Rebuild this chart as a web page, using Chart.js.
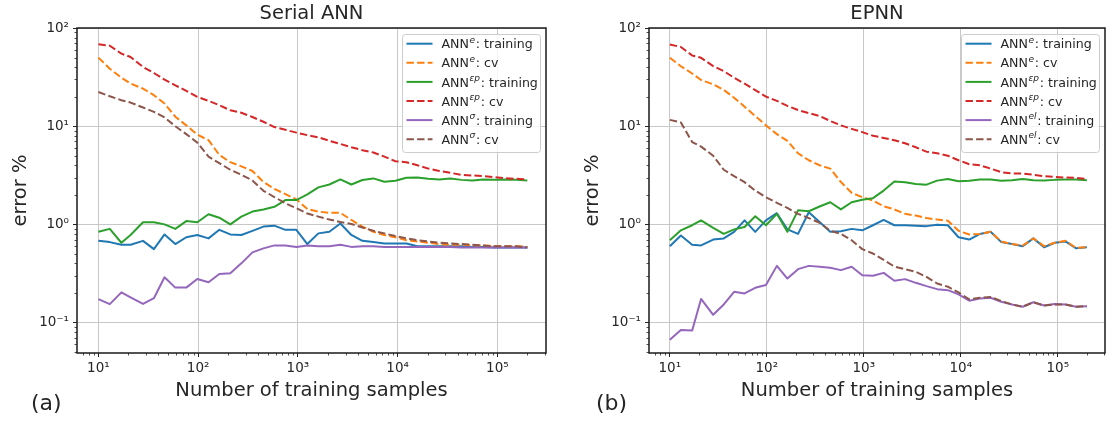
<!DOCTYPE html>
<html><head><meta charset="utf-8">
<script src="https://cdn.jsdelivr.net/npm/chart.js@4/dist/chart.umd.min.js"></script>
<style>
html,body{margin:0;padding:0;background:#fff;width:1119px;height:421px;overflow:hidden}
canvas{position:absolute;top:0}
#c1{left:0}
#c2{left:572px}
</style></head><body>
<canvas id="c1" width="560" height="421"></canvas>
<canvas id="c2" width="547" height="421"></canvas>
<script>
// ---- data ----
const samples = [10,13,17,21,28,36,46,59,76,98,127,163,210,271,350,451,581,749,965,1244,1604,2067,2665,3435,4429,5708,7358,9483,12225,15756,20310,26179,33747,43500,56072,72281,93166,120097,154800,199526];

const xTickValues = [10,100,1000,10000,100000];
const yTickValues = [0.1,1,10,100];

// Serial ANN
const serialTrainE  = [0.68,0.66,0.62,0.62,0.68,0.56,0.79,0.63,0.74,0.78,0.72,0.88,0.79,0.78,0.86,0.95,0.97,0.88,0.88,0.63,0.81,0.84,1.02,0.78,0.68,0.66,0.64,0.64,0.64,0.60,0.60,0.60,0.60,0.60,0.59,0.59,0.58,0.58,0.58,0.58];
const serialCvE     = [49.9,38.5,31.2,27.2,24.1,20.7,17.0,12.5,10.2,8.2,7.2,5.1,4.3,3.9,3.5,2.7,2.3,2.03,1.8,1.43,1.35,1.31,1.31,1.11,0.95,0.84,0.78,0.74,0.69,0.67,0.65,0.63,0.62,0.62,0.61,0.61,0.60,0.60,0.60,0.59];
const serialTrainEP = [0.84,0.90,0.65,0.78,1.05,1.05,1.0,0.90,1.08,1.05,1.27,1.17,1.0,1.2,1.35,1.42,1.51,1.77,1.77,2.02,2.38,2.55,2.87,2.55,2.83,2.94,2.72,2.78,2.98,3.01,2.91,2.86,2.94,2.84,2.80,2.86,2.84,2.86,2.84,2.80];
const serialCvEP    = [68.2,66,54.8,50.7,40.1,34.8,29.8,26.1,22.9,19.9,18.1,16.4,14.5,13.7,12.4,11.1,9.8,9.2,8.6,8.1,7.7,7.1,6.6,6.1,5.7,5.4,4.9,4.4,4.3,4.0,3.7,3.5,3.35,3.2,3.15,3.1,3.03,2.96,2.91,2.87];
const serialTrainS  = [0.173,0.154,0.203,0.181,0.155,0.177,0.289,0.227,0.227,0.278,0.257,0.313,0.318,0.401,0.519,0.570,0.611,0.611,0.587,0.611,0.60,0.60,0.62,0.59,0.60,0.60,0.59,0.59,0.59,0.59,0.59,0.59,0.59,0.58,0.58,0.58,0.58,0.58,0.58,0.58];
const serialCvS     = [22.3,20.2,18.4,17.4,15.5,14.0,12.3,10.0,8.3,6.8,4.9,4.2,3.6,3.2,2.8,2.2,1.9,1.64,1.46,1.29,1.2,1.12,1.06,1.01,0.93,0.86,0.81,0.76,0.72,0.69,0.67,0.65,0.64,0.63,0.62,0.61,0.60,0.60,0.60,0.58];

// EPNN
const epnnTrainE  = [0.60,0.77,0.62,0.61,0.70,0.72,0.84,1.10,0.84,1.10,1.30,0.89,0.80,1.33,1.06,0.84,0.85,0.90,0.87,0.98,1.11,0.98,0.98,0.97,0.96,0.99,0.98,0.74,0.70,0.80,0.84,0.66,0.63,0.60,0.72,0.585,0.65,0.67,0.57,0.585];
const epnnCvE     = [49.7,40.8,34.4,29.5,26.7,23.4,19.5,15.8,12.7,10.2,8.3,7.1,5.3,4.5,4.0,3.7,2.7,2.1,1.89,1.75,1.53,1.42,1.28,1.23,1.16,1.12,1.09,0.86,0.79,0.80,0.84,0.67,0.63,0.61,0.72,0.60,0.65,0.68,0.575,0.585];
const epnnTrainEP = [0.69,0.87,0.98,1.10,0.92,0.80,0.89,0.94,1.21,0.98,1.28,0.84,1.39,1.36,1.52,1.68,1.42,1.68,1.78,1.85,2.21,2.73,2.69,2.58,2.54,2.79,2.90,2.75,2.79,2.86,2.86,2.79,2.82,2.90,2.82,2.80,2.84,2.86,2.86,2.82];
const epnnCvEP    = [67.8,64.1,52.5,49.7,40.9,36.4,31.1,27.1,23.3,20.0,18.1,16.1,14.6,13.6,12.7,11.3,10.2,9.4,8.7,8.0,7.6,7.2,6.7,6.1,5.5,5.3,5.0,4.5,4.1,4.0,3.7,3.4,3.3,3.3,3.2,3.1,3.04,3.0,2.98,2.9];
const epnnTrainL  = [0.067,0.084,0.083,0.174,0.120,0.153,0.206,0.198,0.226,0.241,0.378,0.281,0.35,0.378,0.37,0.361,0.342,0.37,0.304,0.30,0.321,0.267,0.277,0.254,0.235,0.219,0.214,0.194,0.167,0.176,0.179,0.163,0.153,0.145,0.161,0.149,0.155,0.153,0.145,0.147];
const epnnCvL     = [11.6,10.9,6.9,6.2,5.0,3.6,3.1,2.69,2.21,1.89,1.66,1.47,1.28,1.16,1.04,0.86,0.80,0.69,0.56,0.505,0.435,0.372,0.35,0.329,0.292,0.25,0.232,0.203,0.172,0.179,0.182,0.166,0.153,0.145,0.161,0.149,0.153,0.153,0.145,0.147];

// ---- styling ----
const FONT = "'DejaVu Sans', sans-serif";
const TXT = '#262626';
const C = {blue:'#1f77b4', orange:'#ff7f0e', green:'#2ca02c', red:'#d62728', purple:'#9467bd', brown:'#8c564b'};
const DASH = [7.4, 3.2];

const SUP = {'0':'\u2070','1':'\u00b9','2':'\u00b2','3':'\u00b3','4':'\u2074','5':'\u2075','-':'\u207b'};
function powLabel(v){
  const e = String(Math.round(Math.log10(v)));
  return '10' + e.split('').map(c=>SUP[c]).join('');
}

const serialSeries = [
  {data:serialTrainE,  color:C.blue,   dashed:false, sup:'e',  tail:': training'},
  {data:serialCvE,     color:C.orange, dashed:true,  sup:'e',  tail:': cv'},
  {data:serialTrainEP, color:C.green,  dashed:false, sup:'\u03b5p', tail:': training'},
  {data:serialCvEP,    color:C.red,    dashed:true,  sup:'\u03b5p', tail:': cv'},
  {data:serialTrainS,  color:C.purple, dashed:false, sup:'\u03c3',  tail:': training'},
  {data:serialCvS,     color:C.brown,  dashed:true,  sup:'\u03c3',  tail:': cv'}
];
const epnnSeries = [
  {data:epnnTrainE,  color:C.blue,   dashed:false, sup:'e',  tail:': training'},
  {data:epnnCvE,     color:C.orange, dashed:true,  sup:'e',  tail:': cv'},
  {data:epnnTrainEP, color:C.green,  dashed:false, sup:'\u03b5p', tail:': training'},
  {data:epnnCvEP,    color:C.red,    dashed:true,  sup:'\u03b5p', tail:': cv'},
  {data:epnnTrainL,  color:C.purple, dashed:false, sup:'el', tail:': training'},
  {data:epnnCvL,     color:C.brown,  dashed:true,  sup:'el', tail:': cv'}
];

function drawLegend(ctx, ca, series){
  const w = 138, h = 118;
  const x0 = ca.right - 6 - w, y0 = ca.top + 6;
  ctx.save();
  ctx.beginPath();
  if (ctx.roundRect) ctx.roundRect(x0 + 0.5, y0 + 0.5, w, h, 3); else ctx.rect(x0 + 0.5, y0 + 0.5, w, h);
  ctx.fillStyle = 'rgba(255,255,255,0.8)';
  ctx.fill();
  ctx.strokeStyle = '#cccccc';
  ctx.lineWidth = 1;
  ctx.stroke();
  series.forEach((s, i) => {
    const cy = y0 + 9.7 + 19.1 * i;
    ctx.beginPath();
    ctx.setLineDash(s.dashed ? DASH : []);
    ctx.strokeStyle = s.color;
    ctx.lineWidth = 2;
    ctx.lineCap = 'butt';
    ctx.moveTo(x0 + 4.5, cy);
    ctx.lineTo(x0 + 30.5, cy);
    ctx.stroke();
    ctx.setLineDash([]);
    let tx = x0 + 39.5;
    const base = cy + 4.6;
    ctx.fillStyle = TXT;
    ctx.textBaseline = 'alphabetic';
    ctx.textAlign = 'left';
    ctx.font = `12.6px ${FONT}`;
    ctx.fillText('ANN', tx, base);
    tx += ctx.measureText('ANN').width + 0.5;
    ctx.font = `italic 9px ${FONT}`;
    ctx.fillText(s.sup, tx, base - 5.5);
    tx += ctx.measureText(s.sup).width + 0.8;
    ctx.font = `12.6px ${FONT}`;
    ctx.fillText(s.tail, tx, base);
  });
  ctx.restore();
}

function makeChart(id, title, letter, letterX, series){
  const deco = {
    id: 'deco',
    afterDraw(chart){
      const ctx = chart.ctx, ca = chart.chartArea;
      const xs = chart.scales.x, ys = chart.scales.y;
      ctx.save();
      // minor ticks
      ctx.strokeStyle = TXT;
      ctx.lineWidth = 0.8;
      ctx.beginPath();
      for (let e = 0; e <= 5; e++) for (let m = 2; m <= 9; m++) {
        const v = m * Math.pow(10, e);
        if (v < xs.min || v > xs.max) continue;
        const px = Math.round(xs.getPixelForValue(v)) + 0.5;
        ctx.moveTo(px, ca.bottom); ctx.lineTo(px, ca.bottom + 2.5);
      }
      for (let e = -2; e <= 1; e++) for (let m = 2; m <= 9; m++) {
        const v = m * Math.pow(10, e);
        if (v < ys.min || v > ys.max) continue;
        const py = Math.round(ys.getPixelForValue(v)) + 0.5;
        ctx.moveTo(ca.left - 2.5, py); ctx.lineTo(ca.left, py);
      }
      ctx.stroke();
      // spines
      ctx.strokeStyle = '#1a1a1a';
      ctx.lineWidth = 1.5;
      ctx.strokeRect(ca.left, ca.top, ca.right - ca.left, ca.bottom - ca.top);
      ctx.restore();

      drawLegend(ctx, ca, series);

      ctx.save();
      ctx.fillStyle = TXT;
      ctx.textBaseline = 'alphabetic';
      ctx.textAlign = 'center';
      ctx.font = `19.5px ${FONT}`;
      const cx = (ca.left + ca.right) / 2;
      ctx.fillText(title, cx, 19.3);
      ctx.fillText('Number of training samples', cx, 396);
      ctx.save();
      ctx.translate(26, (ca.top + ca.bottom) / 2);
      ctx.rotate(-Math.PI / 2);
      ctx.fillText('error %', 0, 0);
      ctx.restore();
      ctx.textAlign = 'left';
      ctx.font = `22px ${FONT}`;
      ctx.fillText(letter, letterX, 410);
      ctx.restore();
    }
  };

  const datasets = series.map((s, i) => ({
    data: samples.map((x, k) => ({x: x, y: s.data[k]})),
    borderColor: s.color,
    backgroundColor: s.color,
    borderWidth: 2,
    borderDash: s.dashed ? DASH : [],
    borderJoinStyle: 'round',
    borderCapStyle: 'butt',
    pointRadius: 0,
    pointHoverRadius: 0,
    fill: false,
    tension: 0,
    order: series.length - i
  }));

  return new Chart(document.getElementById(id), {
    type: 'line',
    data: {datasets},
    plugins: [deco],
    options: {
      responsive: false,
      animation: false,
      devicePixelRatio: 1,
      layout: {padding: {left: 0, right: 14, top: 28, bottom: 0}},
      plugins: {legend: {display: false}, tooltip: {enabled: false}, title: {display: false}},
      events: [],
      scales: {
        x: {
          type: 'logarithmic',
          min: 6.1, max: 3.07e5,
          afterBuildTicks: s => { s.ticks = xTickValues.map(v => ({value: v})); },
          afterFit: s => { s.height = 68; },
          ticks: {callback: v => powLabel(v), font: {family: FONT, size: 13.5}, color: TXT, padding: 3, maxRotation: 0, autoSkip: false},
          grid: {color: '#c8c8c8', lineWidth: 1, drawTicks: true, tickLength: 4, tickColor: TXT, tickWidth: 1},
          border: {display: false}
        },
        y: {
          type: 'logarithmic',
          position: 'left',
          min: 0.049, max: 100,
          afterBuildTicks: s => { s.ticks = yTickValues.map(v => ({value: v})); },
          afterFit: s => { s.width = 77; },
          ticks: {callback: v => powLabel(v), font: {family: FONT, size: 13.5}, color: TXT, padding: 4, autoSkip: false},
          grid: {color: '#c8c8c8', lineWidth: 1, drawTicks: true, tickLength: 4, tickColor: TXT, tickWidth: 1},
          border: {display: false}
        }
      }
    }
  });
}

makeChart('c1', 'Serial ANN', '(a)', 31, serialSeries);
makeChart('c2', 'EPNN', '(b)', 24, epnnSeries);
</script>
</body></html>
